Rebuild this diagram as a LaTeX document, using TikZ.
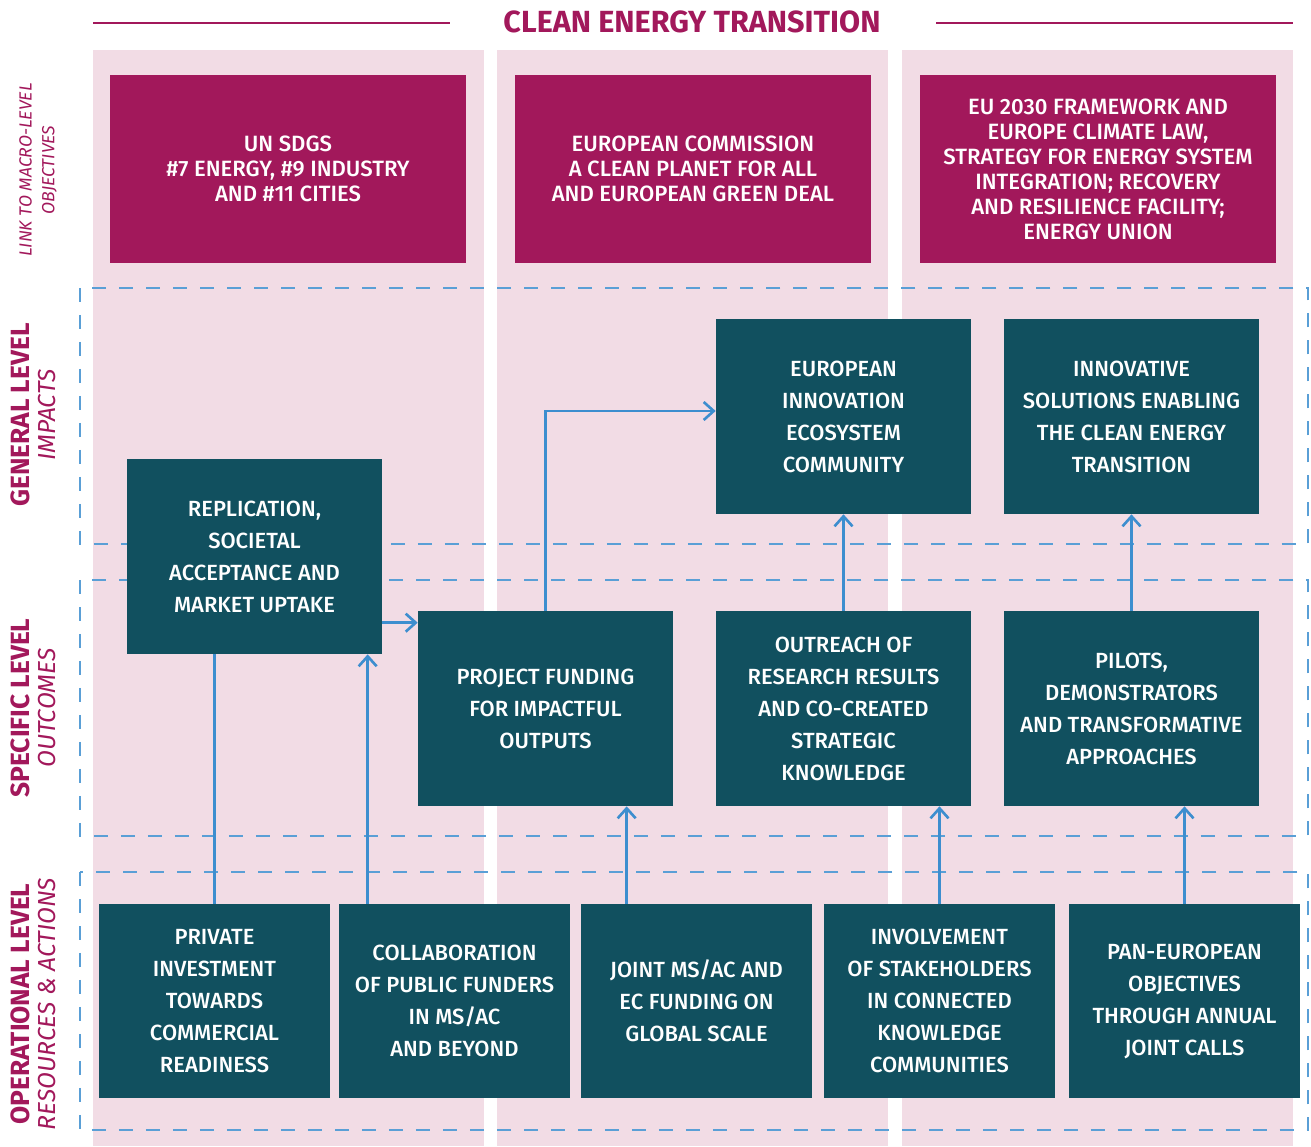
\documentclass[tikz,border=0pt]{standalone}
\usepackage{fontspec}
\setmainfont{Fira Sans}[UprightFont=* Medium, BoldFont=* Bold, ItalicFont=* Italic]
\usetikzlibrary{arrows.meta}
\definecolor{ecmag}{HTML}{A2185B}
\definecolor{ecpink}{HTML}{F2DCE5}
\definecolor{ecteal}{HTML}{11505F}
\definecolor{ecblue}{HTML}{3D8ECF}
\tikzset{
  macro/.style={fill=ecmag, text=white, align=center, minimum width=7.12cm,
    minimum height=3.76cm, font=\fontsize{12.6}{14.2}\selectfont},
  level/.style={fill=ecteal, text=white, align=center, minimum width=5.1cm,
    minimum height=3.9cm, font=\fontsize{12.5}{18.2}\selectfont},
  action/.style={level, minimum width=4.62cm, minimum height=3.88cm},
  band/.style={draw=ecblue!85, dash pattern=on 0.28cm off 0.26cm, line width=0.8pt},
  flow/.style={draw=ecblue, line width=1.5pt, -{Straight Barb[length=2mm,width=3.6mm]}},
  side/.style={rotate=90, align=center, text=ecmag},
}
\begin{document}
\begin{tikzpicture}[x=0.02cm, y=-0.02cm]
      \useasboundingbox (0,0) rectangle (1311,1146);
      % columns
      \fill[ecpink] (93,50) rectangle (484,1146);
      \fill[ecpink] (497,50) rectangle (888,1146);
      \fill[ecpink] (902,50) rectangle (1293,1146);
      % title
      \draw[ecmag, line width=1.5pt] (93,23) -- (450,23);
      \draw[ecmag, line width=1.5pt] (936,23) -- (1293,23);
      \node[text=ecmag, font=\fontsize{17.4}{19}\bfseries] (title) at (692,22) {CLEAN ENERGY TRANSITION};
      % levels
      \draw[band] (80,288) rectangle (1308,544);
      \draw[band] (80,580) rectangle (1308,836);
      \draw[band] (80,872) rectangle (1308,1130);
      \node[side, font=\fontsize{10}{13}\itshape] (lmacro) at (38,170) {LINK TO MACRO-LEVEL\\OBJECTIVES};
      \node[side, font=\fontsize{15}{15}\selectfont] (lgen) at (33,415) {\textbf{GENERAL LEVEL}\\\fontsize{14}{14}\itshape IMPACTS};
      \node[side, font=\fontsize{15}{15}\selectfont] (lspec) at (33,708) {\textbf{SPECIFIC LEVEL}\\\fontsize{14}{14}\itshape OUTCOMES};
      \node[side, font=\fontsize{15}{15}\selectfont] (lop) at (33,1004) {\textbf{OPERATIONAL LEVEL}\\\fontsize{14}{14}\itshape RESOURCES \& ACTIONS};
      % macro objectives
      \node[macro] (un) at (288,169) {UN SDGS\\\#7 ENERGY, \#9 INDUSTRY\\AND \#11 CITIES};
      \node[macro] (ec) at (693,169) {EUROPEAN COMMISSION\\A CLEAN PLANET FOR ALL\\AND EUROPEAN GREEN DEAL};
      \node[macro] (eu) at (1098,169) {EU 2030 FRAMEWORK AND\\EUROPE CLIMATE LAW,\\STRATEGY FOR ENERGY SYSTEM\\INTEGRATION; RECOVERY\\AND RESILIENCE FACILITY;\\ENERGY UNION};
      % impacts and outcomes
      \node[level] (eiec) at (843.5,416.5) {EUROPEAN\\INNOVATION\\ECOSYSTEM\\COMMUNITY};
      \node[level] (innov) at (1131.5,416.5) {INNOVATIVE\\SOLUTIONS ENABLING\\THE CLEAN ENERGY\\TRANSITION};
      \node[level] (repl) at (254.5,556.5) {REPLICATION,\\SOCIETAL\\ACCEPTANCE AND\\MARKET UPTAKE};
      \node[level] (proj) at (545.5,708.5) {PROJECT FUNDING\\FOR IMPACTFUL\\OUTPUTS};
      \node[level] (outr) at (843.5,708.5) {OUTREACH OF\\RESEARCH RESULTS\\AND CO-CREATED\\STRATEGIC\\KNOWLEDGE};
      \node[level] (pilot) at (1131.5,708.5) {PILOTS,\\DEMONSTRATORS\\AND TRANSFORMATIVE\\APPROACHES};
      % resources and actions
      \node[action] (priv) at (214.5,1001) {PRIVATE\\INVESTMENT\\TOWARDS\\COMMERCIAL\\READINESS};
      \node[action] (collab) at (454.5,1001) {COLLABORATION\\OF PUBLIC FUNDERS\\IN MS/AC\\AND BEYOND};
      \node[action] (joint) at (696.5,1001) {JOINT MS/AC AND\\EC FUNDING ON\\GLOBAL SCALE};
      \node[action] (invol) at (939.5,1001) {INVOLVEMENT\\OF STAKEHOLDERS\\IN CONNECTED\\KNOWLEDGE\\COMMUNITIES};
      \node[action] (pan) at (1184.5,1001) {PAN-EUROPEAN\\OBJECTIVES\\THROUGH ANNUAL\\JOINT CALLS};
      \coordinate (cin) at ([yshift=-0.24cm]proj.north west);
      \coordinate (cco) at ([xshift=0.58cm]collab.north west);
      \coordinate (cjo) at ([xshift=0.92cm]joint.north west);
      \begin{scope}[flow]
        \draw[-] (priv.north) to (priv.north |- repl.south);
        \draw (cco) to (cco |- repl.south);
        \draw (repl.east |- cin) to (cin);
        \draw (proj.north) |- ([yshift=0.11cm]eiec.west);
        \draw (cjo) to (cjo |- proj.south);
        \draw (invol.north) to (invol.north |- outr.south);
        \draw (pan.north) to (pan.north |- pilot.south);
        \draw (outr.north) to (eiec.south);
        \draw (pilot.north) to (innov.south);
      \end{scope}
    \end{tikzpicture}
\end{document}
